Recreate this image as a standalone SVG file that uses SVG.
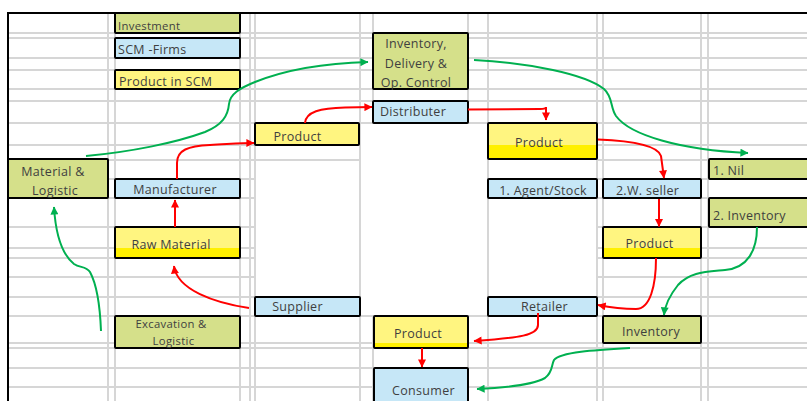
<svg xmlns="http://www.w3.org/2000/svg" width="807" height="401" viewBox="0 0 807 401">
  <defs>
    <style>
      .grid line { stroke: #D6D6D6; stroke-width: 2; }
      .blank { fill: #FFFFFF; }
      .edge { stroke: #000000; stroke-width: 2; fill: none; }
      .green { fill: #D5E08A; }
      .blue { fill: #C6E7F7; }
      .lite { fill: #FFF580; }
      .bright { fill: #FFF000; }
      text { font-family: "Open Sans", "Liberation Sans", sans-serif; fill: #3F3F3F; font-size: 12.5px; letter-spacing: 0.3px; }
      .mid { text-anchor: middle; }
      .small { font-size: 11.3px; }
      .red { stroke: #FF0000; stroke-width: 2; fill: none; }
      .grn { stroke: #00B050; stroke-width: 2; fill: none; }
    </style>
    <marker id="ahRed" viewBox="0 0 10 10" refX="9.5" refY="5" markerWidth="9" markerHeight="8" markerUnits="userSpaceOnUse" orient="auto">
      <path d="M0,0 L10,5 L0,10 z" fill="#FF0000"/>
    </marker>
    <marker id="ahGreen" viewBox="0 0 10 10" refX="9.5" refY="5" markerWidth="9" markerHeight="8" markerUnits="userSpaceOnUse" orient="auto">
      <path d="M0,0 L10,5 L0,10 z" fill="#00B050"/>
    </marker>
  </defs>

  <rect width="807" height="401" fill="#FFFFFF"/>

  <!-- sheet gridlines -->
  <g class="grid">
    <line x1="8" y1="33" x2="807" y2="33"/>
    <line x1="8" y1="38" x2="807" y2="38"/>
    <line x1="8" y1="58" x2="807" y2="58"/>
    <line x1="8" y1="70" x2="807" y2="70"/>
    <line x1="8" y1="89" x2="807" y2="89"/>
    <line x1="8" y1="101" x2="807" y2="101"/>
    <line x1="8" y1="123" x2="807" y2="123"/>
    <line x1="8" y1="145" x2="807" y2="145"/>
    <line x1="8" y1="160" x2="807" y2="160"/>
    <line x1="8" y1="179" x2="807" y2="179"/>
    <line x1="8" y1="198" x2="807" y2="198"/>
    <line x1="8" y1="227" x2="807" y2="227"/>
    <line x1="8" y1="248" x2="807" y2="248"/>
    <line x1="8" y1="258" x2="807" y2="258"/>
    <line x1="8" y1="277" x2="807" y2="277"/>
    <line x1="8" y1="297" x2="807" y2="297"/>
    <line x1="8" y1="316" x2="807" y2="316"/>
    <line x1="8" y1="343" x2="807" y2="343"/>
    <line x1="8" y1="348" x2="807" y2="348"/>
    <line x1="8" y1="368" x2="807" y2="368"/>
    <line x1="8" y1="387" x2="807" y2="387"/>
    <line x1="108" y1="13" x2="108" y2="401"/>
    <line x1="115" y1="13" x2="115" y2="401"/>
    <line x1="240" y1="13" x2="240" y2="401"/>
    <line x1="250" y1="13" x2="250" y2="401"/>
    <line x1="255" y1="13" x2="255" y2="401"/>
    <line x1="360" y1="13" x2="360" y2="401"/>
    <line x1="373" y1="13" x2="373" y2="401"/>
    <line x1="468" y1="13" x2="468" y2="401"/>
    <line x1="488" y1="13" x2="488" y2="401"/>
    <line x1="597" y1="13" x2="597" y2="401"/>
    <line x1="603" y1="13" x2="603" y2="401"/>
    <line x1="701" y1="13" x2="701" y2="401"/>
    <line x1="708" y1="13" x2="708" y2="401"/>
  </g>

  <!-- white-filled cell ranges -->
  <g>
    <rect class="blank" x="256" y="161.5" width="103" height="134.5"/>
    <rect class="blank" x="361" y="124" width="126" height="191"/>
    <rect class="blank" x="489" y="150" width="107" height="28"/>
    <rect class="blank" x="489" y="199" width="107" height="97"/>
    <rect class="blank" x="604" y="199" width="96" height="27"/>
  </g>

  <!-- sheet frame -->
  <path d="M8,401 L8,13 L807,13" fill="none" stroke="#000000" stroke-width="2"/>

  <!-- legend -->
  <g id="legend-investment">
    <rect class="green" x="115" y="13" width="125" height="20"/>
    <rect class="edge" x="115" y="13" width="125" height="20" rx="1"/>
    <text class="small" x="118" y="29.5">Investment</text>
  </g>
  <g id="legend-firms">
    <rect class="blue" x="115" y="38" width="125" height="20"/>
    <rect class="edge" x="115" y="38" width="125" height="20" rx="1"/>
    <text x="118" y="54">SCM -Firms</text>
  </g>
  <g id="legend-product">
    <rect class="lite" x="115" y="70" width="125" height="19"/>
    <rect class="edge" x="115" y="70" width="125" height="19" rx="1"/>
    <text x="119" y="85.5">Product in SCM</text>
  </g>

  <!-- nodes -->
  <g id="inventory-control">
    <rect class="green" x="373" y="33" width="95" height="56"/>
    <rect class="edge" x="373" y="33" width="95" height="56" rx="1"/>
    <text class="mid" x="416" y="48">Inventory,</text>
    <text class="mid" x="416" y="67.5">Delivery &amp;</text>
    <text class="mid" x="416" y="86.5">Op. Control</text>
  </g>
  <g id="distributer">
    <rect class="blue" x="373" y="101" width="95" height="22"/>
    <rect class="edge" x="373" y="101" width="95" height="22" rx="1"/>
    <text x="380" y="116">Distributer</text>
  </g>
  <g id="product-manufactured">
    <rect class="lite" x="255" y="123" width="104" height="22"/>
    <rect class="edge" x="255" y="123" width="104" height="22" rx="1"/>
    <text class="mid" x="297.5" y="140.5">Product</text>
  </g>
  <g id="product-distributed">
    <rect class="lite" x="488" y="123" width="109" height="36"/>
    <rect class="bright" x="488" y="145" width="109" height="14"/>
    <rect class="edge" x="488" y="123" width="109" height="36" rx="1"/>
    <text class="mid" x="539" y="146.5">Product</text>
  </g>
  <g id="material-logistic">
    <rect class="green" x="8" y="159" width="100" height="39"/>
    <rect class="edge" x="8" y="159" width="100" height="39" rx="1"/>
    <text class="mid" x="53" y="175.5">Material &amp;</text>
    <text class="mid" x="55" y="194.5">Logistic</text>
  </g>
  <g id="manufacturer">
    <rect class="blue" x="115" y="179" width="125" height="19"/>
    <rect class="edge" x="115" y="179" width="125" height="19" rx="1"/>
    <text class="mid" x="175" y="194">Manufacturer</text>
  </g>
  <g id="agent-stock">
    <rect class="blue" x="488" y="179" width="109" height="19"/>
    <rect class="edge" x="488" y="179" width="109" height="19" rx="1"/>
    <text class="mid" x="543" y="195">1. Agent/Stock</text>
  </g>
  <g id="wholesaler">
    <rect class="blue" x="603" y="179" width="98" height="19"/>
    <rect class="edge" x="603" y="179" width="98" height="19" rx="1"/>
    <text class="mid" x="647.5" y="195">2.W. seller</text>
  </g>
  <g id="nil">
    <rect class="green" x="709" y="159" width="110" height="20"/>
    <rect class="edge" x="709" y="159" width="110" height="20" rx="1"/>
    <text x="713" y="174.5">1. Nil</text>
  </g>
  <g id="inventory-held">
    <rect class="green" x="709" y="198" width="110" height="29"/>
    <rect class="edge" x="709" y="198" width="110" height="29" rx="1"/>
    <text x="713" y="219.5">2. Inventory</text>
  </g>
  <g id="raw-material">
    <rect class="lite" x="115" y="227" width="125" height="31"/>
    <rect class="bright" x="115" y="248" width="125" height="10"/>
    <rect class="edge" x="115" y="227" width="125" height="31" rx="1"/>
    <text class="mid" x="171" y="248.5">Raw Material</text>
  </g>
  <g id="product-wholesale">
    <rect class="lite" x="603" y="227" width="98" height="31"/>
    <rect class="bright" x="603" y="248" width="98" height="10"/>
    <rect class="edge" x="603" y="227" width="98" height="31" rx="1"/>
    <text class="mid" x="649.5" y="248">Product</text>
  </g>
  <g id="supplier">
    <rect class="blue" x="255" y="297" width="105" height="19"/>
    <rect class="edge" x="255" y="297" width="105" height="19" rx="1"/>
    <text class="mid" x="297.5" y="310.5">Supplier</text>
  </g>
  <g id="retailer">
    <rect class="blue" x="488" y="297" width="109" height="19"/>
    <rect class="edge" x="488" y="297" width="109" height="19" rx="1"/>
    <text class="mid" x="544.5" y="310.5">Retailer</text>
  </g>
  <g id="excavation">
    <rect class="green" x="115" y="316" width="125" height="32"/>
    <rect class="edge" x="115" y="316" width="125" height="32" rx="1"/>
    <text class="mid small" x="171" y="328">Excavation &amp;</text>
    <text class="mid small" x="173.5" y="344.5">Logistic</text>
  </g>
  <g id="product-retail">
    <rect class="lite" x="374" y="316" width="94" height="32"/>
    <rect class="bright" x="374" y="343" width="94" height="5"/>
    <rect class="edge" x="374" y="316" width="94" height="32" rx="1"/>
    <text class="mid" x="418" y="338">Product</text>
  </g>
  <g id="inventory-retail">
    <rect class="green" x="603" y="316" width="98" height="27"/>
    <rect class="edge" x="603" y="316" width="98" height="27" rx="1"/>
    <text class="mid" x="651" y="335.5">Inventory</text>
  </g>
  <g id="consumer">
    <rect class="blue" x="374" y="368" width="94" height="40"/>
    <rect class="edge" x="374" y="368" width="94" height="40" rx="1"/>
    <text class="mid" x="423.5" y="395">Consumer</text>
  </g>

  <!-- connectors -->
  <g id="connectors">
    <!-- product flow (red) -->
    <path class="red" marker-end="url(#ahRed)" d="M177,179 L177,163 C177,150 188,146 210,145 C230,144 242,143 254,143"/>
    <path class="red" marker-end="url(#ahRed)" d="M175,227 L175,200"/>
    <path class="red" marker-end="url(#ahRed)" d="M305,123 C306,112 320,108 345,107.5 L372,107"/>
    <path class="red" marker-end="url(#ahRed)" d="M468,109.5 L540,109 C544,109 546,108.5 546,107 L546,120"/>
    <path class="red" marker-end="url(#ahRed)" d="M598,139.5 C635,141 658,146 661,156 L664,178"/>
    <path class="red" marker-end="url(#ahRed)" d="M659,199 L659,226.5"/>
    <path class="red" marker-end="url(#ahRed)" d="M656,258 C656,286 650,309 636,309 C620,309 608,307 598,305"/>
    <path class="red" marker-end="url(#ahRed)" d="M538,313 L538,325 C538,335 520,338 474,341"/>
    <path class="red" marker-end="url(#ahRed)" d="M422,348 L422,367"/>
    <path class="red" marker-end="url(#ahRed)" d="M249,308 C215,303 177,290 174,266"/>
    <!-- control flow (green) -->
    <path class="grn" marker-end="url(#ahGreen)" d="M86,156 C130,152 175,143 205,132 C222,125 228,116 229,104 C230,94 240,88 255,82 C290,68 330,63 368,62"/>
    <path class="grn" marker-end="url(#ahGreen)" d="M474,60 C530,63 585,74 604,89 C613,97 610,107 616,116 C630,135 680,150 748,153"/>
    <path class="grn" marker-end="url(#ahGreen)" d="M757,227 C757,250 748,268 725,270 C705,272 690,272 678,285 C670,295 665,305 664,315"/>
    <path class="grn" marker-end="url(#ahGreen)" d="M630,348 C595,350 560,352 554,360 C551,366 553,372 545,378 C530,386 500,388 477,389"/>
    <path class="grn" marker-end="url(#ahGreen)" d="M101,331 C100,305 97,285 90,272 C86,266 80,268 74,264 C64,256 56,240 54,207"/>
  </g>
</svg>
